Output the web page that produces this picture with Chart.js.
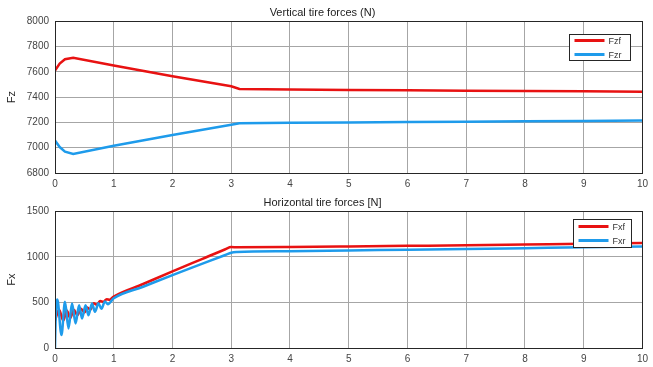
<!DOCTYPE html>
<html>
<head>
<meta charset="utf-8">
<script src="https://cdn.jsdelivr.net/npm/chart.js@4/dist/chart.umd.min.js"></script>
<style>
  html, body { margin: 0; padding: 0; background: #fff; }
  #wrap { position: relative; width: 653px; height: 367px; }
  canvas { position: absolute; left: 0; }
</style>
</head>
<body>
<div id="wrap">
  <canvas id="topChart" width="653" height="190" style="top:0"></canvas>
  <canvas id="bottomChart" width="653" height="177" style="top:190px"></canvas>
</div>
<script>
"use strict";

// time axis (s) and tick labels
const xTicks = [0, 1, 2, 3, 4, 5, 6, 7, 8, 9, 10];
const fzTicks = [6800, 7000, 7200, 7400, 7600, 7800, 8000];
const fxTicks = [0, 500, 1000, 1500];

// vertical tire forces
const timeFz = [0, 0.08, 0.17, 0.31, 1, 2, 3, 3.14, 4, 5, 6, 7, 8, 9, 10];
const fzFront = [7610, 7665, 7699, 7711, 7650, 7565, 7486, 7465, 7460, 7457, 7454, 7451, 7448, 7446, 7443];
const fzRear = [7057, 7005, 6969, 6951, 7015, 7100, 7182, 7194, 7198, 7200, 7203, 7206, 7209, 7212, 7215];

// horizontal tire forces
const timeFxFront = [0, 0.07, 0.14, 0.2, 0.26, 0.32, 0.38, 0.44, 0.5, 0.55, 0.6, 0.66, 0.71, 0.77, 0.82, 0.88, 0.93, 1, 1.5, 2, 2.5, 2.9, 3, 3.1, 4, 5, 6, 7, 8, 9, 10];
const fxFront = [300, 420, 300, 410, 330, 420, 360, 430, 390, 445, 420, 490, 475, 515, 505, 535, 530, 565, 702, 840, 975, 1083, 1107, 1104, 1107, 1113, 1120, 1127, 1135, 1143, 1150];
const timeFxRear = [0, 0.01, 0.04, 0.11, 0.17, 0.23, 0.29, 0.35, 0.41, 0.46, 0.52, 0.57, 0.63, 0.68, 0.74, 0.79, 0.85, 0.9, 1, 1.5, 2, 2.5, 2.9, 3, 3.1, 4, 5, 6, 7, 8, 9, 10];
const fxRear = [0, 300, 532, 142, 506, 215, 488, 270, 470, 324, 470, 360, 488, 397, 490, 430, 510, 480, 545, 672, 800, 922, 1020, 1045, 1052, 1062, 1070, 1078, 1086, 1095, 1104, 1112];

const red = "rgb(232, 18, 18)";
const blue = "rgb(30, 155, 235)";
const fontFamily = "'Liberation Sans', Arial, sans-serif";

function toPoints(xs, ys) {
  return xs.map((x, i) => ({ x: x, y: ys[i] }));
}

// black box round the plot area
const framePlugin = {
  id: "frame",
  afterDatasetsDraw(chart) {
    const a = chart.chartArea;
    const ctx = chart.ctx;
    ctx.save();
    ctx.strokeStyle = "#262626";
    ctx.lineWidth = 1;
    ctx.strokeRect(Math.round(a.left) + 0.5, Math.round(a.top) + 0.5,
      Math.round(a.right - a.left), Math.round(a.bottom - a.top));
    ctx.restore();
  },
};

// matlab style legend box in the top right corner
const boxLegend = {
  id: "boxLegend",
  afterDraw(chart, args, opts) {
    const a = chart.chartArea;
    const ctx = chart.ctx;
    const x = Math.round(a.right - opts.right - opts.width) + 0.5;
    const y = Math.round(a.top + opts.top) + 0.5;
    ctx.save();
    ctx.fillStyle = "#fff";
    ctx.fillRect(x, y, opts.width, opts.height);
    ctx.strokeStyle = "#262626";
    ctx.lineWidth = 1;
    ctx.strokeRect(x, y, opts.width, opts.height);
    ctx.font = "9px " + fontFamily;
    ctx.textBaseline = "middle";
    chart.data.datasets.forEach((ds, i) => {
      const ly = y + opts.firstRow + i * opts.rowGap;
      ctx.strokeStyle = ds.borderColor;
      ctx.lineWidth = 3;
      ctx.beginPath();
      ctx.moveTo(x + 5, ly);
      ctx.lineTo(x + 35, ly);
      ctx.stroke();
      ctx.fillStyle = "#333";
      ctx.fillText(ds.label, x + 39, ly + 1);
    });
    ctx.restore();
  },
};

function makeChart(canvasId, title, yTitle, yMin, yMax, yTicks, datasets, xHeight, legendOpts) {
  return new Chart(document.getElementById(canvasId), {
    type: "line",
    data: { datasets: datasets },
    options: {
      responsive: false,
      animation: false,
      layout: { padding: { left: 0, right: 8, top: 0, bottom: 0 } },
      elements: {
        point: { radius: 0 },
        line: { tension: 0, borderWidth: 2.5 },
      },
      plugins: {
        legend: { display: false },
        tooltip: { enabled: false },
        title: {
          display: true,
          text: title,
          color: "#222",
          font: { family: fontFamily, size: 11, weight: "normal" },
          padding: { top: 6, bottom: 2 },
        },
        boxLegend: legendOpts,
      },
      scales: {
        x: {
          type: "linear",
          min: 0,
          max: 10,
          afterBuildTicks: (axis) => {
            axis.ticks = xTicks.map((v) => ({ value: v }));
          },
          afterFit: (scale) => {
            scale.height = xHeight;
          },
          grid: { color: "#a6a6a6", drawTicks: false },
          border: { display: false },
          ticks: {
            padding: 5,
            color: "#444",
            font: { family: fontFamily, size: 10 },
            maxRotation: 0,
            callback: (v) => String(v),
          },
        },
        y: {
          type: "linear",
          min: yMin,
          max: yMax,
          afterBuildTicks: (axis) => {
            axis.ticks = yTicks.map((v) => ({ value: v }));
          },
          afterFit: (scale) => {
            scale.width = 55;
          },
          grid: { color: "#a6a6a6", drawTicks: false },
          border: { display: false },
          ticks: {
            padding: 6,
            color: "#444",
            font: { family: fontFamily, size: 10 },
            callback: (v) => String(v),
          },
          title: {
            display: true,
            text: yTitle,
            color: "#222",
            font: { family: fontFamily, size: 11 },
            padding: { top: 5, bottom: 0 },
          },
        },
      },
    },
    plugins: [framePlugin, boxLegend],
  });
}

makeChart("topChart", "Vertical tire forces (N)", "Fz", 6800, 8000, fzTicks, [
  { label: "Fzf", data: toPoints(timeFz, fzFront), borderColor: red, backgroundColor: red },
  { label: "Fzr", data: toPoints(timeFz, fzRear), borderColor: blue, backgroundColor: blue },
], 17, { right: 12, top: 13, width: 61, height: 26, firstRow: 6, rowGap: 14 });

// the oscillations get rounded, the straight runs have enough points to stay straight
makeChart("bottomChart", "Horizontal tire forces [N]", "Fx", 0, 1500, fxTicks, [
  { label: "Fxf", data: toPoints(timeFxFront, fxFront), borderColor: red, backgroundColor: red, order: 1, cubicInterpolationMode: "monotone" },
  { label: "Fxr", data: toPoints(timeFxRear, fxRear), borderColor: blue, backgroundColor: blue, order: 0, cubicInterpolationMode: "monotone" },
], 19, { right: 11, top: 8, width: 58, height: 28, firstRow: 7, rowGap: 14 });
</script>
</body>
</html>
